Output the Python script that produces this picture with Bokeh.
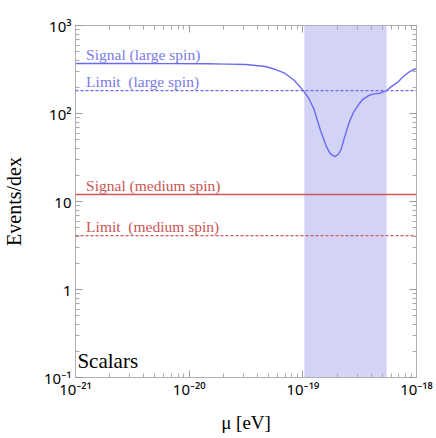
from bokeh.plotting import figure
from bokeh.models import LogAxis, FixedTicker, BoxAnnotation, Span, Label, Range1d, LogScale
from bokeh.embed import file_html
from bokeh.resources import INLINE

# ---- data ----
mu = [1e-21, 3.0e-21, 6.6e-21, 1.44e-20, 2.14e-20, 3.16e-20, 4.68e-20, 5.70e-20,
      6.93e-20, 8.43e-20, 1.01e-19, 1.13e-19, 1.25e-19, 1.43e-19, 1.62e-19, 1.74e-19,
      1.91e-19, 2.04e-19, 2.18e-19, 2.34e-19, 2.56e-19, 2.79e-19, 3.13e-19, 3.40e-19,
      3.80e-19, 4.22e-19, 4.78e-19, 5.45e-19, 6.00e-19, 6.86e-19, 7.45e-19, 8.34e-19,
      9.06e-19, 1.0e-18]
signal_large = [370, 370, 369, 367, 364, 360, 342, 318, 287, 237, 182, 148, 113, 64,
                41.4, 35, 32.4, 34, 39.7, 55, 79.6, 103, 129, 146, 160, 167, 170, 182,
                202, 227, 255, 287, 308, 325]
limit_large = 182
signal_medium = 12.0
limit_medium = 4.1
band_mu = [1.03e-19, 5.45e-19]

x_ticks = [1e-21, 1e-20, 1e-19, 1e-18]
x_tick_labels = ["10⁻²¹", "10⁻²⁰", "10⁻¹⁹", "10⁻¹⁸"]
y_ticks = [0.1, 1, 10, 100, 1000]
y_tick_labels = ["10⁻¹", "1", "10", "10²", "10³"]

labels = ["Signal (large spin)", "Limit\u00a0\u00a0(large spin)",
          "Signal (medium spin)", "Limit\u00a0\u00a0(medium spin)"]
label_mu = 1.24e-21
scalars_mu = 1.04e-21

BLUE = "#6a6af0"
BLUE_TXT = "#7a7ae6"
RED = "#cc5858"
RED_TXT = "#c95555"
BAND = "#d3d3f6"
GRAY = "#b0b0b0"


def minor(ticks):
    out = []
    for t in ticks[:-1]:
        out += [m * t for m in range(2, 10)]
    return out


p = figure(width=436, height=438, x_axis_type=None, y_axis_type=None,
           x_range=Range1d(x_ticks[0], x_ticks[-1]), y_range=Range1d(y_ticks[0], y_ticks[-1]),
           output_backend="svg", toolbar_location=None,
           min_border_left=64, min_border_right=20, min_border_top=25, min_border_bottom=61)
p.x_scale = LogScale()
p.y_scale = LogScale()
p.grid.visible = False
p.outline_line_color = GRAY
p.background_fill_color = "white"
p.border_fill_color = "white"

xt = FixedTicker(ticks=x_ticks, minor_ticks=minor(x_ticks))
yt = FixedTicker(ticks=y_ticks, minor_ticks=minor(y_ticks))


def style(ax, show):
    ax.major_tick_in = 7
    ax.major_tick_out = 0
    ax.minor_tick_in = 4
    ax.minor_tick_out = 0
    ax.axis_line_color = GRAY
    ax.major_tick_line_color = "#9a9a9a"
    ax.minor_tick_line_color = "#aaaaaa"
    ax.major_label_text_font = "Noto Sans"
    ax.major_label_text_color = "black"
    ax.major_label_text_font_size = "15px"
    if not show:
        ax.major_label_text_font_size = "1px"
        ax.major_label_text_alpha = 0
        ax.major_label_standoff = 0
    ax.axis_label_text_font = "Liberation Serif"
    ax.axis_label_text_font_style = "normal"
    ax.axis_label_text_color = "black"


bx = LogAxis(ticker=xt, axis_label="μ [eV]",
             major_label_overrides=dict(zip(x_ticks, x_tick_labels)))
style(bx, True)
bx.axis_label_text_font_size = "19px"
bx.major_label_standoff = 1
bx.axis_label_standoff = 10
ly = LogAxis(ticker=yt, axis_label="Events/dex",
             major_label_overrides=dict(zip(y_ticks, y_tick_labels)))
style(ly, True)
ly.axis_label_text_font_size = "20px"
ly.major_label_standoff = 4
ly.axis_label_standoff = 16
tx = LogAxis(ticker=xt)
style(tx, False)
ry = LogAxis(ticker=yt)
style(ry, False)
p.add_layout(bx, "below")
p.add_layout(ly, "left")
p.add_layout(tx, "above")
p.add_layout(ry, "right")

p.add_layout(BoxAnnotation(left=band_mu[0], right=band_mu[1], fill_color=BAND, fill_alpha=1,
                           line_color=None, level="underlay"))

p.line(mu, signal_large, line_color=BLUE, line_width=1.4)
p.add_layout(Span(location=limit_large, dimension="width", line_color=BLUE,
                  line_width=1.4, line_dash="3 2"))
p.add_layout(Span(location=signal_medium, dimension="width", line_color=RED, line_width=1.4))
p.add_layout(Span(location=limit_medium, dimension="width", line_color=RED,
                  line_width=1.4, line_dash="3 2"))

levels = [signal_large[0], limit_large, signal_medium, limit_medium]
colors = [BLUE_TXT, BLUE_TXT, RED_TXT, RED_TXT]
for txt, lvl, c in zip(labels, levels, colors):
    p.add_layout(Label(x=label_mu, y=lvl, text=txt, text_font="Liberation Serif",
                       text_font_size="15.5px", text_color=c, text_baseline="middle",
                       y_offset=9))

p.add_layout(Label(x=scalars_mu, y=y_ticks[0], text="Scalars", text_font="Liberation Serif",
                   text_font_size="21px", text_color="black", text_baseline="middle",
                   y_offset=17))

open("out.html", "w").write(file_html(p, INLINE))
